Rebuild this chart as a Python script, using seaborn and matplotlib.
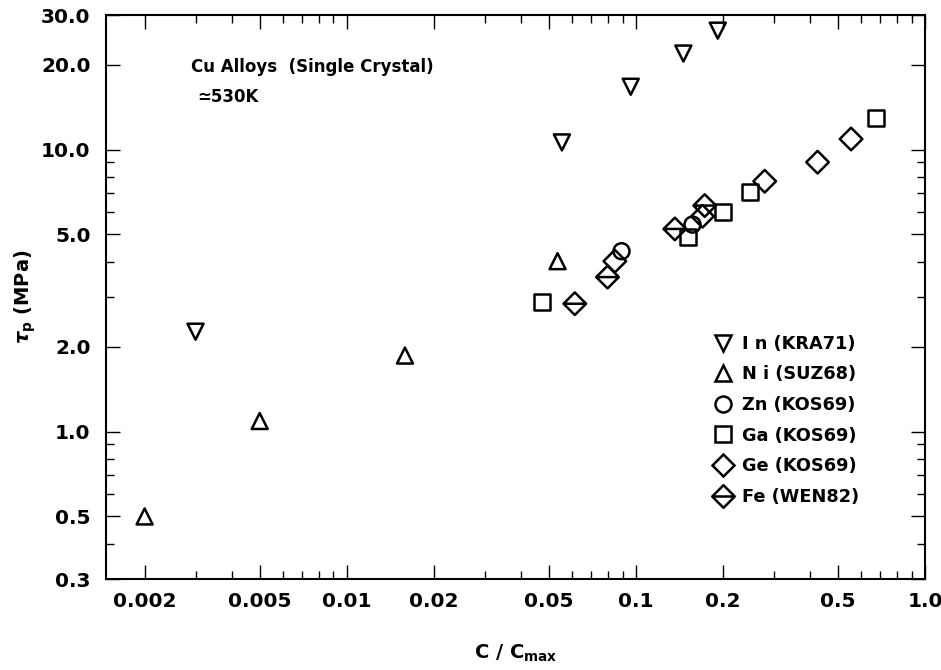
import matplotlib
matplotlib.use("Agg")
import matplotlib.pyplot as plt
import seaborn as sns
import pandas as pd
from matplotlib.path import Path
from matplotlib.lines import Line2D
from matplotlib.ticker import FixedLocator, FixedFormatter, NullFormatter

# ---- data ----
in_x = [0.003, 0.0555, 0.096, 0.146, 0.192]
in_y = [2.26, 10.6, 16.7, 21.9, 26.4]
ni_x = [0.002, 0.005, 0.0159, 0.0536]
ni_y = [0.50, 1.09, 1.86, 4.02]
zn_x = [0.0892, 0.157]
zn_y = [4.36, 5.42]
ga_x = [0.0474, 0.151, 0.1995, 0.248, 0.677]
ga_y = [2.87, 4.90, 6.01, 7.06, 12.9]
ge_x = [0.0846, 0.170, 0.279, 0.425, 0.555]
ge_y = [4.02, 5.80, 7.72, 9.02, 10.9]
fe_x = [0.0615, 0.0798, 0.1364, 0.173]
fe_y = [2.84, 3.53, 5.23, 6.33]

series_labels = ["I n (KRA71)", "N i (SUZ68)", "Zn (KOS69)",
                 "Ga (KOS69)", "Ge (KOS69)", "Fe (WEN82)"]

x_major = [0.002, 0.005, 0.01, 0.02, 0.05, 0.1, 0.2, 0.5, 1.0]
x_major_labels = ["0.002", "0.005", "0.01", "0.02", "0.05", "0.1", "0.2", "0.5", "1.0"]
x_minor = [0.003, 0.004, 0.006, 0.007, 0.008, 0.009,
           0.03, 0.04, 0.06, 0.07, 0.08, 0.09,
           0.3, 0.4, 0.6, 0.7, 0.8, 0.9]
y_major = [0.3, 0.5, 1.0, 2.0, 5.0, 10.0, 20.0, 30.0]
y_major_labels = ["0.3", "0.5", "1.0", "2.0", "5.0", "10.0", "20.0", "30.0"]
y_minor = [0.4, 0.6, 0.7, 0.8, 0.9, 3, 4, 6, 7, 8, 9]

# ---- style ----
sns.set_style("ticks")
plt.rcParams["font.family"] = ["DejaVu Sans"]
plt.rcParams["font.weight"] = "bold"
plt.rcParams["text.color"] = "black"
plt.rcParams["axes.labelcolor"] = "black"
plt.rcParams["xtick.color"] = "black"
plt.rcParams["ytick.color"] = "black"
plt.rcParams["xtick.labelcolor"] = "black"
plt.rcParams["ytick.labelcolor"] = "black"

# Fe marker: diamond with a horizontal bar
fe_path = Path([(0, -1), (1, 0), (0, 1), (-1, 0), (0, -1), (-1, 0), (1, 0)],
               [Path.MOVETO, Path.LINETO, Path.LINETO, Path.LINETO,
                Path.CLOSEPOLY, Path.MOVETO, Path.LINETO])

ms = 11.5            # marker size in points
ms_fe = ms * 1.414   # custom diamond normalised differently from 'D'
lw = 1.8

series = [
    (in_x, in_y, "v", ms),
    (ni_x, ni_y, "^", ms),
    (zn_x, zn_y, "o", ms),
    (ga_x, ga_y, "s", ms),
    (ge_x, ge_y, "D", ms),
    (fe_x, fe_y, fe_path, ms_fe),
]

fig = plt.figure(figsize=(9.41, 6.70), dpi=100)
ax = fig.add_axes([0.1126, 0.1358, 0.983 - 0.1126, 0.9776 - 0.1358])

for (xs, ys, mk, size), lab in zip(series, series_labels):
    df = pd.DataFrame({"x": xs, "y": ys})
    sns.scatterplot(data=df, x="x", y="y", marker=mk, s=size ** 2,
                    facecolors="none", edgecolor="black", linewidth=lw,
                    ax=ax, legend=False, zorder=3)

for coll in ax.collections:
    coll.set_facecolor("none")
    coll.set_edgecolor("black")
    coll.set_linewidth(lw)

ax.set_xscale("log")
ax.set_yscale("log")
ax.set_xlim(0.00147, 1.0)
ax.set_ylim(0.3, 30.0)

ax.xaxis.set_major_locator(FixedLocator(x_major))
ax.xaxis.set_major_formatter(FixedFormatter(x_major_labels))
ax.xaxis.set_minor_locator(FixedLocator(x_minor))
ax.xaxis.set_minor_formatter(NullFormatter())
ax.yaxis.set_major_locator(FixedLocator(y_major))
ax.yaxis.set_major_formatter(FixedFormatter(y_major_labels))
ax.yaxis.set_minor_locator(FixedLocator(y_minor))
ax.yaxis.set_minor_formatter(NullFormatter())

ax.tick_params(which="both", direction="in", top=True, right=True,
               color="black", labelcolor="black", width=1.0)
ax.tick_params(which="major", length=10)
ax.tick_params(which="minor", length=6)
ax.tick_params(axis="x", which="major", labelsize=14.5, pad=9)
ax.tick_params(axis="y", which="major", labelsize=14.5, pad=11)
for lab in ax.get_xticklabels() + ax.get_yticklabels():
    lab.set_fontweight("bold")

for sp in ax.spines.values():
    sp.set_visible(True)
    sp.set_linewidth(1.5)
    sp.set_color("black")

ax.set_xlabel(r"C / C$_{\mathbf{max}}$", fontsize=14, fontweight="bold", color="black")
ax.set_ylabel(r"$\tau_{\mathbf{p}}$ (MPa)", fontsize=14, fontweight="bold", color="black")
ax.xaxis.set_label_coords(0.5, -0.131)
ax.yaxis.set_label_coords(-0.099, 0.5)
ax.xaxis.label.set_va("center")
ax.yaxis.label.set_va("center")

ax.text(0.104, 0.908, "Cu Alloys  (Single Crystal)", transform=ax.transAxes,
        fontsize=12, fontweight="bold", va="center", ha="left", color="black")
ax.text(0.111, 0.855, "\u2243530K", transform=ax.transAxes,
        fontsize=12, fontweight="bold", va="center", ha="left", color="black")

handles = []
for (xs, ys, mk, size), lab in zip(series, series_labels):
    handles.append(Line2D([], [], linestyle="none", marker=mk, markersize=size,
                          markerfacecolor="none", markeredgecolor="black",
                          markeredgewidth=lw, label=lab))
leg = ax.legend(handles=handles, loc="upper left", bbox_to_anchor=(0.742, 0.433),
                frameon=False, handlelength=1.0, handletextpad=0.6,
                borderpad=0, borderaxespad=0, labelspacing=0.71,
                prop={"size": 12.8, "weight": "bold"})
for t in leg.get_texts():
    t.set_color("black")

fig.savefig("out.png", dpi=100)
